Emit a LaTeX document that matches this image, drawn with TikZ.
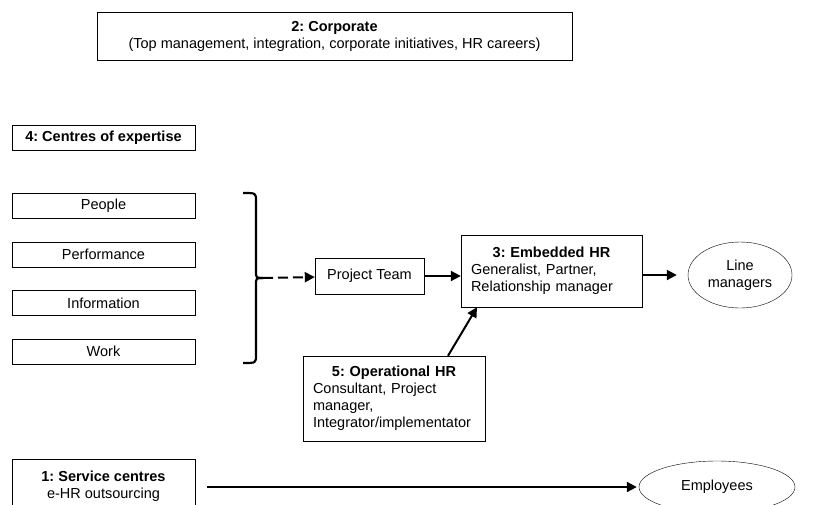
\documentclass[tikz,border=0pt]{standalone}
\usepackage{fontspec}
\setmainfont{Liberation Sans}
\usepackage{tikz}
\usetikzlibrary{positioning}
\usetikzlibrary{arrows.meta,shapes}
\usetikzlibrary{calc}
\frenchspacing
\tikzstyle{box}=[rectangle,draw,thin,inner sep=0pt,align=center]
\tikzstyle{textbox}=[rectangle,draw,thin,inner xsep=10pt,inner ysep=0pt,align=left]
\tikzstyle{oval}=[ellipse,draw,thin,inner sep=0pt,align=center]
\tikzstyle{edge} = [draw,line width=2pt,->]
\tikzstyle{dashededge} = [draw,line width=2pt,->,dash pattern=on 10pt off 5pt]
\tikzstyle{bracket} = [draw,line width=2.2pt]
\tikzset{>={Triangle[length=10pt,width=10pt]}}

\begin{document}
\begin{tikzpicture}[x=1pt,y=-1pt,font=\fontsize{14.5}{17}\selectfont]
    \useasboundingbox (0,0) rectangle (837,504);
    % First we draw the boxes on the left
    \node[box,minimum width=475pt,minimum height=48pt] (corp) at (334.5,36)
        {\textbf{2: Corporate}\\(Top management, integration, corporate initiatives, HR careers)};
    \node[box,minimum width=183pt,minimum height=25pt] (cent) at (103.5,137.5) {\textbf{4: Centres of expertise}};
    \foreach \y/\name/\label in {205.5/people/People, 254.5/perf/Performance,
    303/info/Information, 351.5/work/Work}
        \node[box,minimum width=183pt,minimum height=25pt] (\name) at (103.5,\y) {\label};
    \node[box,minimum width=183pt,minimum height=54pt] (serv) at (103.5,486) {\textbf{1: Service centres}\\e-HR outsourcing};

    % The brace round the four centres
    \draw[bracket] (243,193) .. controls (256,193) .. (256,201) -- (256,271) .. controls (256,278) .. (263,278);
    \draw[bracket] (263,278) .. controls (256,278) .. (256,285) -- (256,355) .. controls (256,363) .. (243,363);
    \coordinate (tip) at (263,278);

    % Then the boxes in the middle and the ovals
    \node[box,minimum width=109pt,minimum height=36pt] (team) at (369.5,276) {Project Team};
    \node[textbox,text width=161pt,minimum height=72pt] (emb) at (551.5,271)
        {\makebox[161pt]{\textbf{3: Embedded HR}}\\Generalist, Partner,\\Relationship manager};
    \node[textbox,text width=162pt,minimum height=85pt] (op) at (394,398.5)
        {\makebox[162pt]{\textbf{5: Operational HR}}\\Consultant, Project\\manager,\\Integrator/implementator};
    \node[oval,minimum width=104pt,minimum height=66pt] (lm) at (740,275) {Line\\managers};
    \node[oval,minimum width=156pt,minimum height=52pt] (emp) at (717,487) {Employees};

    % Connect them
    \path[dashededge] (tip) -- (team);
    \path[edge] (team) -- (team -| emb.west);
    \path[edge,shorten >=11pt] (emb.east |- lm) -- (lm);
    \path[edge] ([xshift=54pt]op.north) -- ([xshift=-74.5pt]emb.south);
    \path[edge,shorten <=12pt,shorten >=2pt] (serv.east |- emp) -- (emp);
\end{tikzpicture}
\end{document}
